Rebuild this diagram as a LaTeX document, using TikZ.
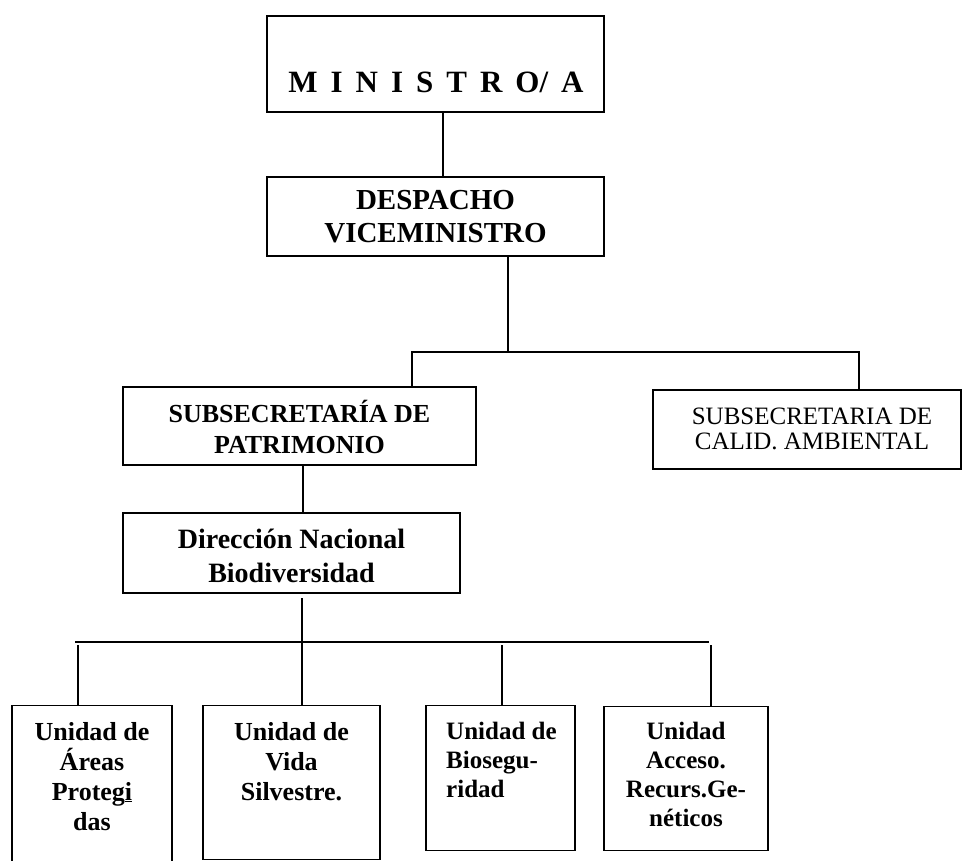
\documentclass[tikz,border=0pt]{standalone}
\usepackage{fontspec}
\setmainfont{Liberation Serif}
\newcommand{\lsp}{\kern13pt}
\begin{document}
\begin{tikzpicture}[x=1pt,y=-1pt,
  box/.style={draw, line width=1.4pt, inner sep=0pt, align=center},
  lnk/.style={line width=1.4pt},
  txt/.style={inner sep=0pt, align=center}]
\useasboundingbox (0,0) rectangle (962,861);
\clip (0,0) rectangle (962,861);
% boxes
\node[box, minimum width=337pt, minimum height=96pt] (min) at (435.5,64) {};
\node[txt, anchor=base, font=\fontsize{31}{31}\selectfont\bfseries] (mintxt) at (436,93)
  {M\lsp I\lsp N\lsp I\lsp S\lsp T\lsp R\lsp O/\lsp A};
\node[box, minimum width=337pt, minimum height=79pt, font=\fontsize{29}{33}\selectfont\bfseries] (desp) at (435.5,216.5) {DESPACHO\\VICEMINISTRO};
\node[box, minimum width=353pt, minimum height=78pt] (pat) at (299.5,426) {};
\node[txt, font=\fontsize{26}{31}\selectfont\bfseries] (pattxt) at (299.5,427) {SUBSECRETARÍA DE\\PATRIMONIO};
\node[box, minimum width=308pt, minimum height=79pt] (cal) at (807,429.5) {};
\node[txt, font=\fontsize{25}{25}\selectfont] (caltxt) at (812,429) {SUBSECRETARIA DE\\CALID. AMBIENTAL};
\node[box, minimum width=337pt, minimum height=80pt] (dir) at (291.5,553) {};
\node[txt, font=\fontsize{28}{34}\selectfont\bfseries] (dirtxt) at (291.5,556) {Dirección Nacional\\Biodiversidad};
% units
\node[box, anchor=north, minimum width=160pt, minimum height=175pt] (u1) at (92,705) {};
\node[box, anchor=north, minimum width=177pt, minimum height=154pt] (u2) at (291.5,705) {};
\node[box, anchor=north, minimum width=149pt, minimum height=145pt] (u3) at (500.5,705) {};
\node[box, anchor=north, minimum width=164pt, minimum height=144pt] (u4) at (686,706) {};
\node[txt, anchor=north, font=\fontsize{26}{30}\selectfont\bfseries] (t1) at (92,722) {Unidad de\\Áreas\\Proteg\underline{i}\\das};
\node[txt, anchor=north, font=\fontsize{26}{30}\selectfont\bfseries] (t2) at (291.5,722) {Unidad de\\Vida\\Silvestre.};
\node[txt, anchor=north west, align=left, font=\fontsize{25}{29}\selectfont\bfseries] (t3) at (446,722) {Unidad de\\Biosegu-\\ridad};
\node[txt, anchor=north, font=\fontsize{25}{29}\selectfont\bfseries] (t4) at (686,722) {Unidad\\Acceso.\\Recurs.Ge-\\néticos};
% connectors
\coordinate (a) at (443,0);
\draw[lnk] (min.south -| a) -- (desp.north -| a);
\coordinate (b1) at (508,352);
\coordinate (bl) at (412,352);
\coordinate (br) at (859,352);
\draw[lnk] (desp.south -| b1) -- (b1);
\draw[lnk] (pat.north -| bl) -- (bl) -- (br) -- (cal.north -| br);
\coordinate (c) at (303,0);
\draw[lnk] (pat.south -| c) -- (dir.north -| c);
\coordinate (d) at (302,598);
\draw[lnk] (d) -- (u2.north -| d);
\coordinate (e1) at (75,642);
\coordinate (e2) at (709,642);
\draw[lnk] (e1) -- (e2);
\coordinate (f1) at (78,645);
\coordinate (f3) at (502,645);
\coordinate (f4) at (711,645);
\draw[lnk] (f1) -- (u1.north -| f1);
\draw[lnk] (f3) -- (u3.north -| f3);
\draw[lnk] (f4) -- (u4.north -| f4);
\end{tikzpicture}
\end{document}
